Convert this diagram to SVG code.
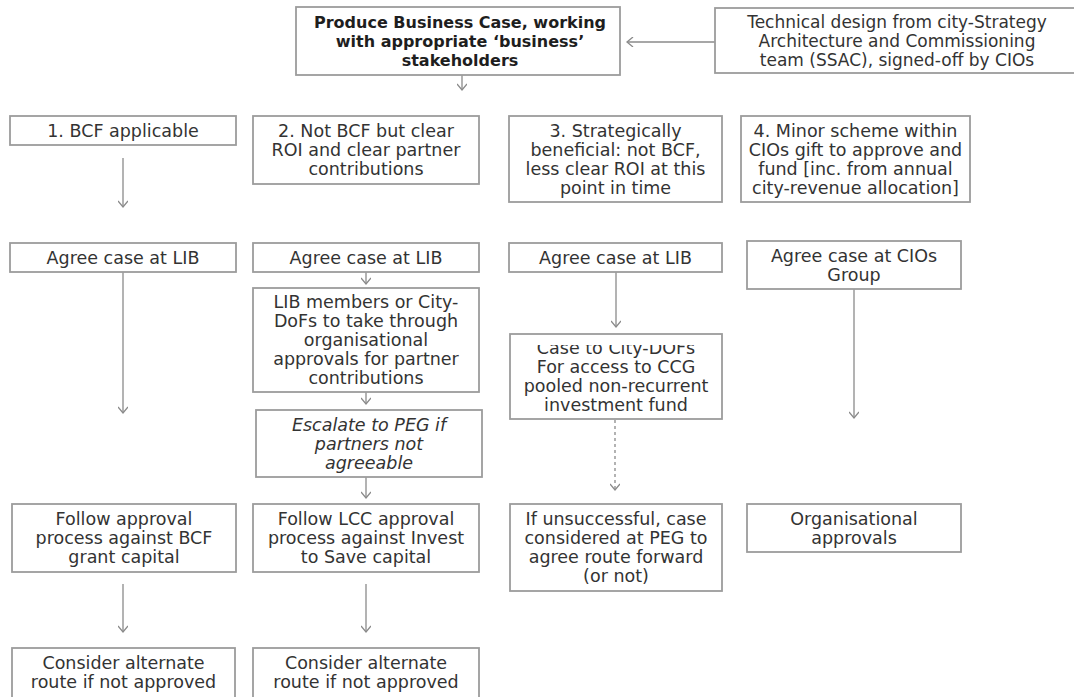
<svg xmlns="http://www.w3.org/2000/svg" width="1074" height="697" viewBox="0 0 1074 697">
<style>
  .box { fill: #ffffff; stroke: #9c9c9c; stroke-width: 1.8; }
  .t { font-family: "DejaVu Sans", "Liberation Sans", sans-serif; font-size: 17.5px; fill: #333333; text-anchor: middle; }
  .tb { font-family: "DejaVu Sans", "Liberation Sans", sans-serif; font-size: 16px; font-weight: bold; fill: #1e1e1e; text-anchor: middle; }
  .ts { font-size: 17px; }
  .ti { font-style: italic; }
  .c { stroke: #8a8a8a; stroke-width: 1.3; fill: none; marker-end: url(#arr); }
  .dot { stroke-dasharray: 3 3; }
</style>
<defs>
  <marker id="arr" viewBox="0 0 10 10" refX="8" refY="5" markerWidth="10" markerHeight="10" markerUnits="userSpaceOnUse" orient="auto">
    <path d="M2,0 L8,5 L2,10" fill="none" stroke="#8a8a8a" stroke-width="1.3"/>
  </marker>
  <clipPath id="clipCase"><rect x="510" y="345" width="212" height="74"/></clipPath>
</defs>
<rect width="1074" height="697" fill="#ffffff"/>

<g id="connectors">
  <line class="c" x1="462" y1="75" x2="462" y2="90"/>
  <line class="c" x1="715" y1="42" x2="627" y2="42"/>
  <line class="c" x1="123" y1="158" x2="123" y2="207"/>
  <line class="c" x1="123" y1="272" x2="123" y2="413"/>
  <line class="c" x1="366" y1="272" x2="366" y2="284"/>
  <line class="c" x1="366" y1="392" x2="366" y2="404"/>
  <line class="c" x1="366" y1="477" x2="366" y2="498"/>
  <line class="c" x1="616" y1="271" x2="616" y2="327"/>
  <line class="c dot" x1="615" y1="420" x2="615" y2="490"/>
  <line class="c" x1="854" y1="289" x2="854" y2="418"/>
  <line class="c" x1="123" y1="584" x2="123" y2="632"/>
  <line class="c" x1="366" y1="584" x2="366" y2="632"/>
</g>

<g id="produce-business-case">
  <rect class="box" x="296" y="7" width="324" height="68"/>
  <text class="tb" x="460" y="27.5">Produce Business Case, working</text>
  <text class="tb" x="460" y="46.5">with appropriate ‘business’</text>
  <text class="tb" x="460" y="65.5">stakeholders</text>
</g>

<g id="technical-design">
  <rect class="box" x="715" y="8" width="370" height="65"/>
  <text class="t ts" x="897" y="28">Technical design from city-Strategy</text>
  <text class="t ts" x="897" y="47">Architecture and Commissioning</text>
  <text class="t ts" x="897" y="66">team (SSAC), signed-off by CIOs</text>
</g>

<g id="bcf-applicable">
  <rect class="box" x="10" y="116" width="226" height="29"/>
  <text class="t" x="123" y="136.5">1. BCF applicable</text>
</g>

<g id="not-bcf">
  <rect class="box" x="253" y="116" width="226" height="68"/>
  <text class="t" x="366" y="137">2. Not BCF but clear</text>
  <text class="t" x="366" y="156">ROI and clear partner</text>
  <text class="t" x="366" y="175">contributions</text>
</g>

<g id="strategically-beneficial">
  <rect class="box" x="509" y="116" width="213" height="86"/>
  <text class="t" x="615.5" y="136.5">3. Strategically</text>
  <text class="t" x="615.5" y="155.5">beneficial: not BCF,</text>
  <text class="t" x="615.5" y="174.5">less clear ROI at this</text>
  <text class="t" x="615.5" y="193.5">point in time</text>
</g>

<g id="minor-scheme">
  <rect class="box" x="741" y="116" width="229" height="86"/>
  <text class="t" x="855.5" y="136.5">4. Minor scheme within</text>
  <text class="t" x="855.5" y="155.5">CIOs gift to approve and</text>
  <text class="t" x="855.5" y="174.5">fund [inc. from annual</text>
  <text class="t" x="855.5" y="193.5">city-revenue allocation]</text>
</g>

<g id="agree-lib-1">
  <rect class="box" x="10" y="243" width="226" height="29"/>
  <text class="t" x="123" y="263.5">Agree case at LIB</text>
</g>

<g id="agree-lib-2">
  <rect class="box" x="253" y="243" width="226" height="29"/>
  <text class="t" x="366" y="263.5">Agree case at LIB</text>
</g>

<g id="agree-lib-3">
  <rect class="box" x="509" y="243" width="213" height="29"/>
  <text class="t" x="615.5" y="263.5">Agree case at LIB</text>
</g>

<g id="agree-cios">
  <rect class="box" x="747" y="241" width="214" height="48"/>
  <text class="t" x="854" y="261.5">Agree case at CIOs</text>
  <text class="t" x="854" y="280.5">Group</text>
</g>

<g id="lib-members">
  <rect class="box" x="253" y="288" width="226" height="104"/>
  <text class="t" x="366" y="308">LIB members or City-</text>
  <text class="t" x="366" y="327">DoFs to take through</text>
  <text class="t" x="366" y="346">organisational</text>
  <text class="t" x="366" y="365">approvals for partner</text>
  <text class="t" x="366" y="384">contributions</text>
</g>

<g id="escalate-peg">
  <rect class="box" x="256" y="410" width="226" height="67"/>
  <text class="t ti" x="369" y="430.5">Escalate to PEG if</text>
  <text class="t ti" x="369" y="449.5">partners not</text>
  <text class="t ti" x="369" y="468.5">agreeable</text>
</g>

<g id="case-city-dofs">
  <rect class="box" x="510" y="334" width="212" height="85"/>
  <g clip-path="url(#clipCase)">
    <text class="t" x="616" y="354">Case to City-DOFs</text>
  </g>
  <text class="t" x="616" y="373">For access to CCG</text>
  <text class="t" x="616" y="392">pooled non-recurrent</text>
  <text class="t" x="616" y="411">investment fund</text>
</g>

<g id="follow-bcf">
  <rect class="box" x="12" y="504" width="224" height="68"/>
  <text class="t" x="124" y="525">Follow approval</text>
  <text class="t" x="124" y="544">process against BCF</text>
  <text class="t" x="124" y="563">grant capital</text>
</g>

<g id="follow-lcc">
  <rect class="box" x="253" y="504" width="226" height="68"/>
  <text class="t" x="366" y="525">Follow LCC approval</text>
  <text class="t" x="366" y="544">process against Invest</text>
  <text class="t" x="366" y="563">to Save capital</text>
</g>

<g id="if-unsuccessful">
  <rect class="box" x="510" y="504" width="212" height="87"/>
  <text class="t" x="616" y="525">If unsuccessful, case</text>
  <text class="t" x="616" y="544">considered at PEG to</text>
  <text class="t" x="616" y="563">agree route forward</text>
  <text class="t" x="616" y="582">(or not)</text>
</g>

<g id="organisational-approvals">
  <rect class="box" x="747" y="504" width="214" height="48"/>
  <text class="t" x="854" y="524.5">Organisational</text>
  <text class="t" x="854" y="543.5">approvals</text>
</g>

<g id="consider-1">
  <rect class="box" x="12" y="648" width="223" height="60"/>
  <text class="t" x="123.5" y="669">Consider alternate</text>
  <text class="t" x="123.5" y="688">route if not approved</text>
</g>

<g id="consider-2">
  <rect class="box" x="253" y="648" width="226" height="60"/>
  <text class="t" x="366" y="669">Consider alternate</text>
  <text class="t" x="366" y="688">route if not approved</text>
</g>
</svg>
